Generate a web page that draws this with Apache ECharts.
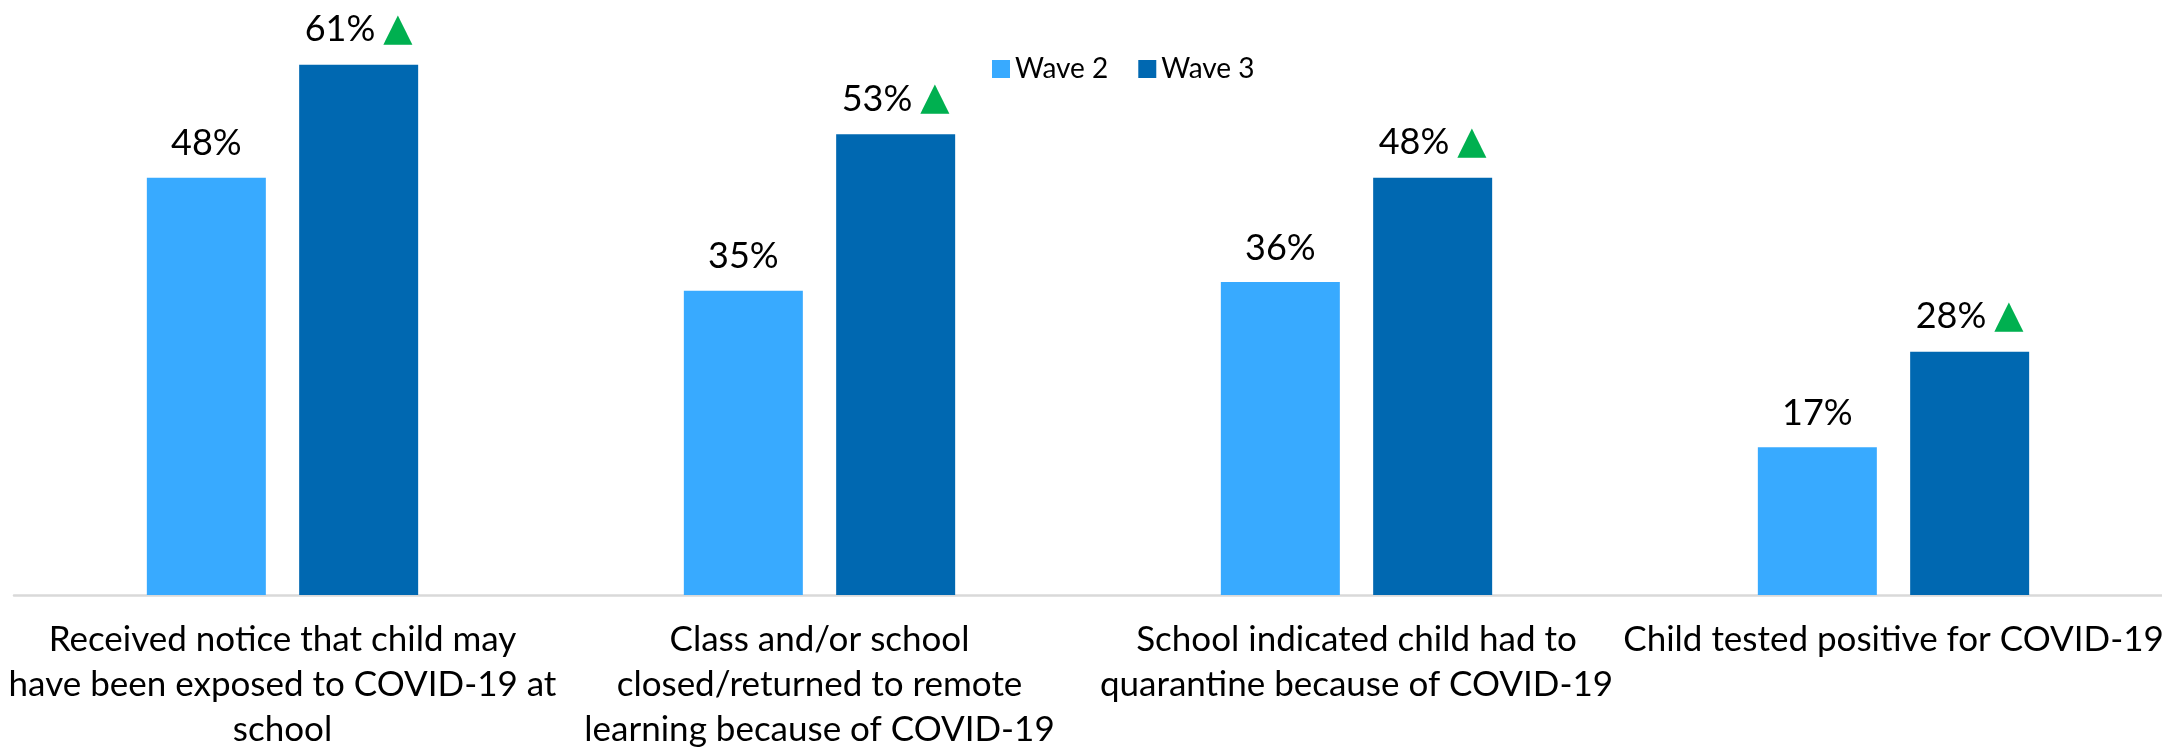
<!DOCTYPE html>
<html>
<head>
<meta charset="utf-8">
<script src="https://cdn.jsdelivr.net/npm/echarts@6/dist/echarts.min.js"></script>
<style>
html,body{margin:0;padding:0;background:#fff;}
#chart{width:2162px;height:748px;}
</style>
</head>
<body>
<div id="chart"></div>
<script>
var categories = [
  "Received notice that child may\nhave been exposed to COVID-19 at\nschool",
  "Class and/or school\nclosed/returned to remote\nlearning because of COVID-19",
  "School indicated child had to\nquarantine because of COVID-19",
  "Child tested positive for COVID-19"
];
var wave2 = [48, 35, 36, 17];
var wave3 = [61, 53, 48, 28];
var seriesNames = ["Wave 2", "Wave 3"];
var significant = [true, true, true, true];

var FONT = "Lato";
var chart = echarts.init(document.getElementById('chart'));
chart.setOption({
  animation: false,
  backgroundColor: '#ffffff',
  legend: {
    left: 987, top: 50,
    itemWidth: 18, itemHeight: 18, itemGap: 30,
    icon: 'rect',
    textStyle: {fontFamily: FONT, fontSize: 28, color: '#000'},
    data: seriesNames
  },
  grid: {left: 14, right: 0, top: 4, bottom: 153, containLabel: false, outerBoundsMode: 'none'},
  xAxis: {
    type: 'category',
    data: categories,
    axisLine: {lineStyle: {color: '#D9D9D9', width: 2.5}},
    axisTick: {show: false},
    axisLabel: {interval: 0, margin: 22, fontFamily: FONT, fontSize: 35, lineHeight: 45, color: '#000', align: 'center', hideOverlap: false}
  },
  yAxis: {type: 'value', min: 0, max: 68, show: false, splitLine: {show: false}},
  series: [
    {
      name: seriesNames[0], type: 'bar', data: wave2, barWidth: 119, barGap: '28%',
      itemStyle: {color: '#38AAFF'},
      label: {show: true, position: 'top', distance: 16, fontFamily: FONT, fontSize: 36, color: '#000',
        formatter: function(p){ return p.value + '%'; }}
    },
    {
      name: seriesNames[1], type: 'bar', data: wave3, barWidth: 119,
      itemStyle: {color: '#0068B1'},
      label: {show: true, position: 'top', distance: 16, color: '#000',
        formatter: function(p){ return '{v|' + p.value + '%}' + (significant[p.dataIndex] ? '{t|▲}' : ''); },
        rich: {
          v: {fontFamily: FONT, fontSize: 36, color: '#000'},
          t: {fontFamily: 'DejaVu Sans', fontSize: 38, color: '#00B050', padding: [0, 0, 0, 8]}
        }}
    }
  ]
});
</script>
</body>
</html>
